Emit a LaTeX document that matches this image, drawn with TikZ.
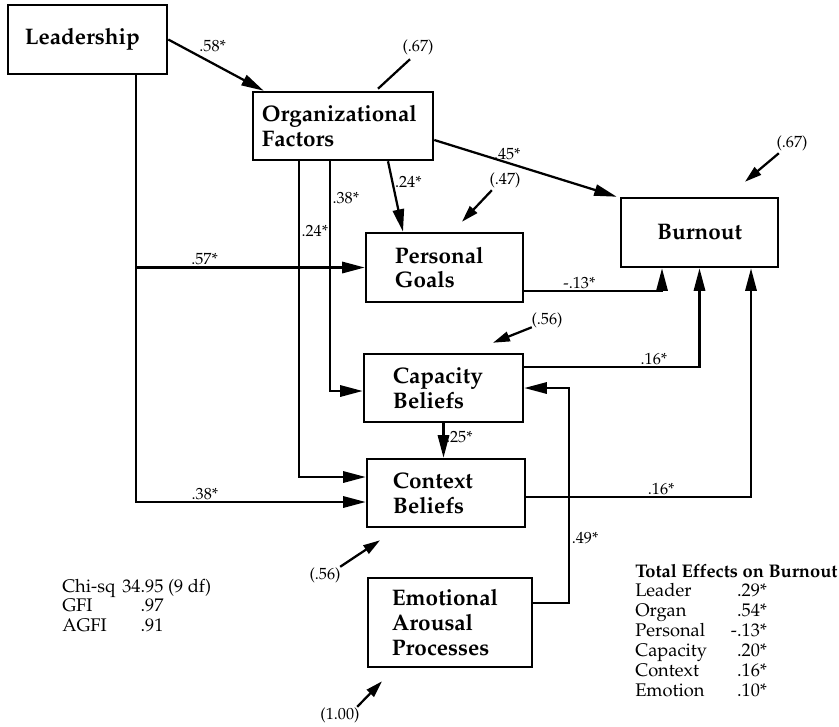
\documentclass[tikz,border=0pt]{standalone}
\usepackage[T1]{fontenc}
\usepackage{mathpazo}
\usetikzlibrary{arrows.meta,calc}

\newcommand{\boxfont}{\fontsize{16}{17.5}\selectfont\bfseries}
\newcommand{\lblfont}{\fontsize{11.5}{13}\selectfont}
\newcommand{\statfont}{\fontsize{13}{14.2}\selectfont}

\begin{document}
\begin{tikzpicture}[x=0.025cm, y=-0.025cm,
    var/.style={draw, line width=1.8pt, align=left, inner sep=0pt, font=\boxfont},
    arr/.style={-{Triangle[length=16pt, width=8pt]}, line width=1.6pt},
    err/.style={-{Triangle[length=12pt, width=7pt]}, line width=1.6pt},
    lbl/.style={font=\lblfont, inner sep=1pt}
  ]
  \useasboundingbox (0,0) rectangle (839,726);

  \node[var, minimum width=3.975cm, minimum height=1.725cm, text width=3.125cm] (lead) at (87.5,39.5) {Leadership};
  \node[var, minimum width=4.5cm, minimum height=1.7cm, text width=4.05cm] (org) at (343,126) {Organizational\\Factors};
  \node[var, minimum width=3.925cm, minimum height=1.725cm, align=center] (burn) at (699.5,232.5) {Burnout};
  \node[var, minimum width=3.925cm, minimum height=1.725cm, text width=2.475cm] (pers) at (444.5,267.5) {Personal\\Goals};
  \node[var, minimum width=3.975cm, minimum height=1.7cm, text width=2.525cm] (cap) at (443.5,388) {Capacity\\Beliefs};
  \node[var, minimum width=3.95cm, minimum height=1.7cm, text width=2.65cm] (ctx) at (446,493) {Context\\Beliefs};
  \node[var, minimum width=4.1cm, minimum height=2.225cm, text width=2.9cm] (emo) at (450,622.5) {Emotional\\Arousal\\Processes};
  \coordinate (lsplit) at ($(lead.south)+(48.5,0)$);

  % paths
  \draw[arr] (lead.east) -- ($(org.north west)+(12,0)$) node[lbl, pos=.3, above right] {.58*};
  \draw[arr] ($(org.east)+(0,14)$) -- ($(burn.north west)+(-3,0)$) node[lbl, pos=.4, above] {.45*};
  \draw[arr] ($(org.south)+(45,0)$) -- ($(pers.north)+(-41.5,0)$) node[lbl, pos=.3, right] {.24*};
  \draw[arr] ($(org.south)+(-13,0)$) |- ($(cap.west)+(0,3)$) node[lbl, pos=.08, right] {.38*};
  \draw[arr] ($(org.south)+(-44,0)$) |- ($(ctx.west)+(0,-16)$) node[lbl, pos=.11, right] {.24*};
  \draw[arr] (lsplit) |- ($(ctx.west)+(0,9)$) node[lbl, pos=.65, above] {.38*};
  \draw[arr] (lsplit |- pers.west) -- (pers.west) node[lbl, pos=.3, above] {.57*};
  \draw[arr] ($(pers.east)+(0,23.5)$) -| ($(burn.south)+(-37.5,0)$) node[lbl, pos=.2, above] {-.13*};
  \draw[arr] ($(cap.east)+(0,-21)$) -| (burn.south) node[lbl, pos=.37, above] {.16*};
  \draw[arr] ($(ctx.east)+(0,4)$) -| ($(burn.south)+(51.5,0)$) node[lbl, pos=.3, above] {.16*};
  \draw[arr] ($(emo.east)+(0,-19.5)$) -| ($(cap.east)+(45,0)$) node[lbl, pos=.65, right] {.49*} -- (cap.east);
  \draw[arr] (cap.south) -- (cap.south |- ctx.north) node[lbl, pos=.4, right] {.25*};

  % residuals
  \node[lbl] (e1) at (418,47) {(.67)};
  \node[lbl] (e2) at (792,143) {(.67)};
  \node[lbl] (e3) at (505,180) {(.47)};
  \node[lbl] (e4) at (547,320) {(.56)};
  \node[lbl] (e5) at (325,575) {(.56)};
  \node[lbl] (e6) at (340,715) {(1.00)};
  \draw[line width=1.6pt] ($(e1.south)+(-8,3)$) -- ($(org.north)+(35,-2)$);
  \draw[err] ($(e2.south west)+(4,1)$) -- ($(burn.north)+(45.5,-15)$);
  \draw[err] ($(e3.south west)+(4,1)$) -- ($(pers.north)+(17.5,-10)$);
  \draw[err] ($(e4.south west)+(2,-2)$) -- ($(cap.north)+(49.5,-10)$);
  \draw[err] ($(e5.north east)+(-2,1)$) -- ($(ctx.south)+(-66,12)$);
  \draw[err] ($(e6.north east)+(-4,1)$) -- ($(emo.south)+(-68,13)$);

  \node[font=\statfont, inner sep=0pt, anchor=base west] (fit) at (62,592) {%
    \begin{tabular}[t]{@{}l@{\hspace{5pt}}l@{}}
      Chi-sq & 34.95 (9 df)\\
      GFI & \phantom{34}.97\\
      AGFI & \phantom{34}.91
    \end{tabular}};
  \node[font=\statfont, inner sep=0pt, anchor=base west] (tot) at (635,577) {%
    \begin{tabular}[t]{@{}l@{\hspace{17pt}}r@{}}
      \multicolumn{2}{@{}l@{}}{\rlap{\bfseries Total Effects on Burnout}}\\
      Leader & .29*\\
      Organ & .54*\\
      Personal & -.13*\\
      Capacity & .20*\\
      Context & .16*\\
      Emotion & .10*
    \end{tabular}};
\end{tikzpicture}
\end{document}
